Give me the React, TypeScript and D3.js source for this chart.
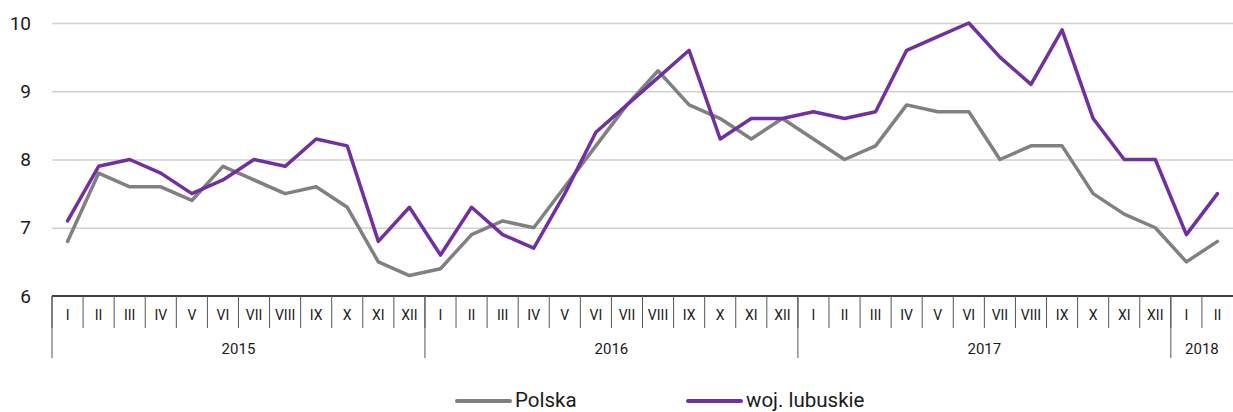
import { axisLeft, line, range, scaleBand, scaleLinear, select } from "d3";
import { useEffect, useRef } from "react";

const months = ["I", "II", "III", "IV", "V", "VI", "VII", "VIII", "IX", "X", "XI", "XII"];
const years = [
  { label: "2015", count: 12 },
  { label: "2016", count: 12 },
  { label: "2017", count: 12 },
  { label: "2018", count: 2 },
];
const yTicks = [6, 7, 8, 9, 10];

const polska = [
  6.8, 7.8, 7.6, 7.6, 7.4, 7.9, 7.7, 7.5, 7.6, 7.3, 6.5, 6.3,
  6.4, 6.9, 7.1, 7.0, 7.6, 8.2, 8.8, 9.3, 8.8, 8.6, 8.3, 8.6,
  8.3, 8.0, 8.2, 8.8, 8.7, 8.7, 8.0, 8.2, 8.2, 7.5, 7.2, 7.0,
  6.5, 6.8,
];
const lubuskie = [
  7.1, 7.9, 8.0, 7.8, 7.5, 7.7, 8.0, 7.9, 8.3, 8.2, 6.8, 7.3,
  6.6, 7.3, 6.9, 6.7, 7.5, 8.4, 8.8, 9.2, 9.6, 8.3, 8.6, 8.6,
  8.7, 8.6, 8.7, 9.6, 9.8, 10.0, 9.5, 9.1, 9.9, 8.6, 8.0, 8.0,
  6.9, 7.5,
];

const series = [
  { name: "Polska", values: polska, color: "#808080" },
  { name: "woj. lubuskie", values: lubuskie, color: "#7030a0" },
];

export default function App() {
  const ref = useRef<SVGSVGElement>(null);
  const width = 1233;
  const height = 412;
  const marginLeft = 52;
  const marginRight = 0;
  const marginTop = 23;
  const axisY = 296;
  const font = "Roboto, 'Noto Sans', sans-serif";

  useEffect(() => {
    const svg = select(ref.current);
    svg.selectAll("*").remove();

    const labels = years.flatMap((yr) => months.slice(0, yr.count).map((m) => `${yr.label}-${m}`));

    const x = scaleBand<number>()
      .domain(range(labels.length))
      .range([marginLeft, width - marginRight])
      .padding(0);

    const y = scaleLinear().domain([6, 10]).range([axisY, marginTop]);

    // gridlines + y labels
    svg.append("g")
      .attr("transform", `translate(${marginLeft},0)`)
      .call(axisLeft(y).tickValues(yTicks).tickSize(-(width - marginLeft - marginRight)).tickFormat((d) => `${d}`))
      .call((g) => g.select(".domain").remove())
      .call((g) => g.selectAll(".tick line").attr("stroke", "#d0d0d0").attr("stroke-width", 1.3).filter((d) => d === 6).remove())
      .call((g) => g.selectAll(".tick text")
        .attr("x", -21)
        .attr("font-size", 19)
        .attr("font-family", font)
        .attr("fill", "#1a1a1a"));

    // x axis line
    svg.append("line")
      .attr("x1", marginLeft).attr("x2", width - marginRight)
      .attr("y1", axisY).attr("y2", axisY)
      .attr("stroke", "#000").attr("stroke-width", 1.3);

    // month separators and labels
    const cat = svg.append("g");
    cat.selectAll("line.m")
      .data(range(labels.length))
      .join("line")
      .attr("class", "m")
      .attr("x1", (i) => x(i)!).attr("x2", (i) => x(i)!)
      .attr("y1", axisY).attr("y2", 328)
      .attr("stroke", "#555").attr("stroke-width", 1);

    cat.selectAll("text.m")
      .data(labels)
      .join("text")
      .attr("class", "m")
      .attr("x", (_, i) => x(i)! + x.bandwidth() / 2)
      .attr("y", 320)
      .attr("text-anchor", "middle")
      .attr("font-size", 14)
      .attr("font-family", font)
      .attr("fill", "#1a1a1a")
      .text((d) => d.split("-")[1]);

    // year separators and labels
    let start = 0;
    const yearPos = years.map((yr) => {
      const p = { label: yr.label, from: start, to: start + yr.count };
      start += yr.count;
      return p;
    });
    cat.selectAll("line.y")
      .data(yearPos)
      .join("line")
      .attr("class", "y")
      .attr("x1", (d) => x(d.from)!).attr("x2", (d) => x(d.from)!)
      .attr("y1", axisY).attr("y2", 358)
      .attr("stroke", "#555").attr("stroke-width", 1);

    cat.selectAll("text.y")
      .data(yearPos)
      .join("text")
      .attr("class", "y")
      .attr("x", (d) => (x(d.from)! + x(d.to - 1)! + x.bandwidth()) / 2)
      .attr("y", 354)
      .attr("text-anchor", "middle")
      .attr("font-size", 15)
      .attr("font-family", font)
      .attr("fill", "#1a1a1a")
      .text((d) => d.label);

    // lines
    const path = line<number>()
      .x((_, i) => x(i)! + x.bandwidth() / 2)
      .y((d) => y(d));

    svg.append("g")
      .selectAll("path")
      .data(series)
      .join("path")
      .attr("d", (s) => path(s.values))
      .attr("fill", "none")
      .attr("stroke", (s) => s.color)
      .attr("stroke-width", 3.5)
      .attr("stroke-linejoin", "round")
      .attr("stroke-linecap", "round");

    // legend
    const legendX = [457, 688];
    const leg = svg.append("g")
      .selectAll("g")
      .data(series)
      .join("g")
      .attr("transform", (_, i) => `translate(${legendX[i]},401)`);
    leg.append("line")
      .attr("x1", 0).attr("x2", 53)
      .attr("stroke", (s) => s.color)
      .attr("stroke-width", 4)
      .attr("stroke-linecap", "round");
    leg.append("text")
      .attr("x", 58)
      .attr("y", 6)
      .attr("font-size", 20.5)
      .attr("font-family", font)
      .attr("fill", "#1a1a1a")
      .text((s) => s.name);
  }, []);

  return (
    <svg
      ref={ref}
      width={width}
      height={height}
      viewBox={`0 0 ${width} ${height}`}
      style={{ position: "absolute", left: 0, top: 0, background: "#fff" }}
    />
  );
}
